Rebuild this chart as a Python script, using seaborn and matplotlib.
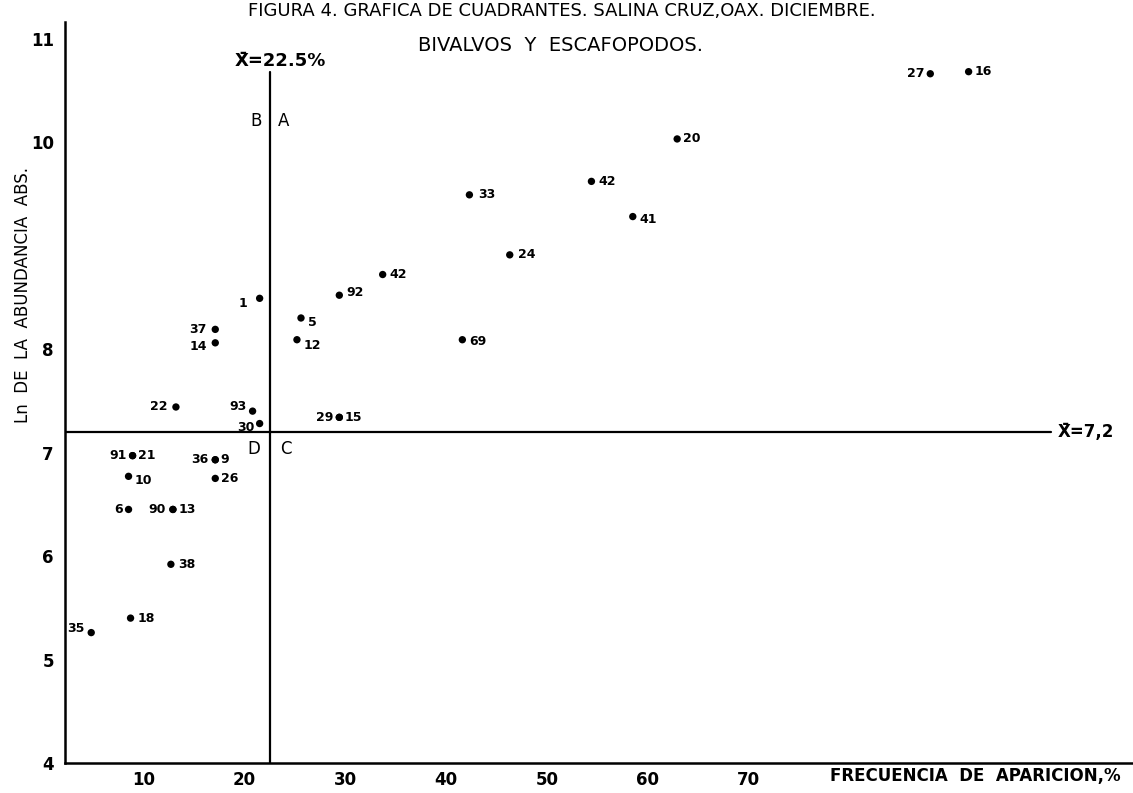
import matplotlib
matplotlib.use('Agg')
import matplotlib.pyplot as plt
import seaborn as sns
import pandas as pd

# Species numbers with frequency (%) and Ln of absolute abundance
species = ['1', '37', '14', '22', '93', '30', '5', '12', '92', '42',
           '33', '24', '69', '42', '41', '20', '27', '16', '29', '15',
           '91', '21', '10', '36', '9', '26', '6', '90', '13', '38',
           '18', '35']
frecuencia = [21.5, 17.1, 17.1, 13.2, 20.8, 21.5, 25.6, 25.2, 29.4, 33.7,
              42.3, 46.3, 41.6, 54.4, 58.5, 62.9, 88.0, 91.8, 29.4, 29.4,
              8.9, 8.9, 8.5, 17.1, 17.1, 17.1, 8.5, 12.9, 12.9, 12.7,
              8.7, 4.8]
ln_abundancia = [8.49, 8.19, 8.06, 7.44, 7.40, 7.28, 8.30, 8.09, 8.52, 8.72,
                 9.49, 8.91, 8.09, 9.62, 9.28, 10.03, 10.66, 10.68, 7.34, 7.34,
                 6.97, 6.97, 6.77, 6.93, 6.93, 6.75, 6.45, 6.45, 6.45, 5.92,
                 5.40, 5.26]

media_x = 22.5
media_y = 7.2

xticks = [10, 20, 30, 40, 50, 60, 70]
yticks = [4, 5, 6, 7, 8, 9, 10, 11]
ytick_labels = ['4', '5', '6', '7', '8', '', '10', '11']

# label placement (offset in points) for each point, same order as species
label_offsets = [(-9, -4), (-6, 0), (-6, -3), (-6, 0), (-4, 3), (-4, -3),
                 (5, -3), (5, -4), (5, 2), (5, 0), (6, 0), (6, 0), (5, -1),
                 (5, 0), (5, -2), (4, 0), (-4, 0), (4, 0), (-4, 0), (4, 0),
                 (-4, 0), (4, 0), (4, -3), (-5, 0), (4, 0), (4, 0), (-4, 0),
                 (-5, 0), (4, 0), (5, 0), (5, 0), (-5, 3)]

df = pd.DataFrame({'especie': species, 'frecuencia': frecuencia,
                   'ln_ab': ln_abundancia})

sns.set_style('white')
plt.rcParams['font.family'] = ['DejaVu Sans']
plt.rcParams['text.color'] = 'black'
plt.rcParams['xtick.color'] = 'black'
plt.rcParams['ytick.color'] = 'black'
plt.rcParams['axes.labelcolor'] = 'black'

fig = plt.figure(figsize=(11.33, 7.93), dpi=100)
ax = fig.add_axes([65 / 1133, 30 / 793, 1068 / 1133, 741 / 793])

sns.scatterplot(data=df, x='frecuencia', y='ln_ab', ax=ax, color='black',
                s=28, edgecolor='none', legend=False)

for (lab, xv, yv), (dx, dy) in zip(zip(species, frecuencia, ln_abundancia),
                                   label_offsets):
    ax.annotate(lab, (xv, yv), xytext=(dx, dy), textcoords='offset points',
                ha='left' if dx > 0 else 'right', va='center',
                fontsize=9, fontweight='bold', color='black')

# quadrant lines
ax.plot([media_x, media_x], [4, 10.68], color='black', lw=1.6)
ax.plot([2.2, 100], [media_y, media_y], color='black', lw=1.6)

ax.text(media_x + 1.1, 10.78, 'X\u0304=22.5%', ha='center', va='center',
        fontsize=13, fontweight='bold')
ax.text(media_x - 0.8, 10.2, 'B', ha='right', va='center', fontsize=12)
ax.text(media_x + 0.8, 10.2, 'A', ha='left', va='center', fontsize=12)
ax.text(media_x - 0.9, 7.03, 'D', ha='right', va='center', fontsize=12)
ax.text(media_x + 1.0, 7.03, 'C', ha='left', va='center', fontsize=12)
ax.text(100.6, media_y, 'X\u0304=7,2', ha='left', va='center', fontsize=12,
        fontweight='bold')

ax.set_xlim(2.2, 108.1)
ax.set_ylim(4, 11.16)
ax.set_xticks(xticks)
ax.set_xticklabels([str(t) for t in xticks])
ax.set_yticks(yticks)
ax.set_yticklabels(ytick_labels)
ax.tick_params(axis='x', direction='in', length=6, width=1.3, pad=6,
               labelsize=12, colors='black')
ax.tick_params(axis='y', direction='in', length=8, width=1.3, pad=8,
               labelsize=12, colors='black')
for t in ax.get_xticklabels() + ax.get_yticklabels():
    t.set_fontweight('bold')

for side in ['top', 'right']:
    ax.spines[side].set_visible(False)
for side in ['left', 'bottom']:
    ax.spines[side].set_linewidth(1.8)
    ax.spines[side].set_color('black')
ax.set_xlabel('')
ax.set_ylabel('')
ax.patch.set_alpha(0)

fig.text(0.496, 0.998, 'FIGURA 4. GRAFICA DE CUADRANTES. SALINA CRUZ,OAX. DICIEMBRE.',
         ha='center', va='top', fontsize=13)
fig.text(0.495, 0.943, 'BIVALVOS  Y  ESCAFOPODOS.', ha='center', va='center',
         fontsize=14)
fig.text(0.02, 0.628, 'Ln  DE  LA  ABUNDANCIA  ABS.', rotation=90,
         ha='center', va='center', fontsize=12)
fig.text(0.733, 0.021, 'FRECUENCIA  DE  APARICION,%', ha='left', va='center',
         fontsize=12, fontweight='bold')

fig.savefig('out.png', dpi=100)
